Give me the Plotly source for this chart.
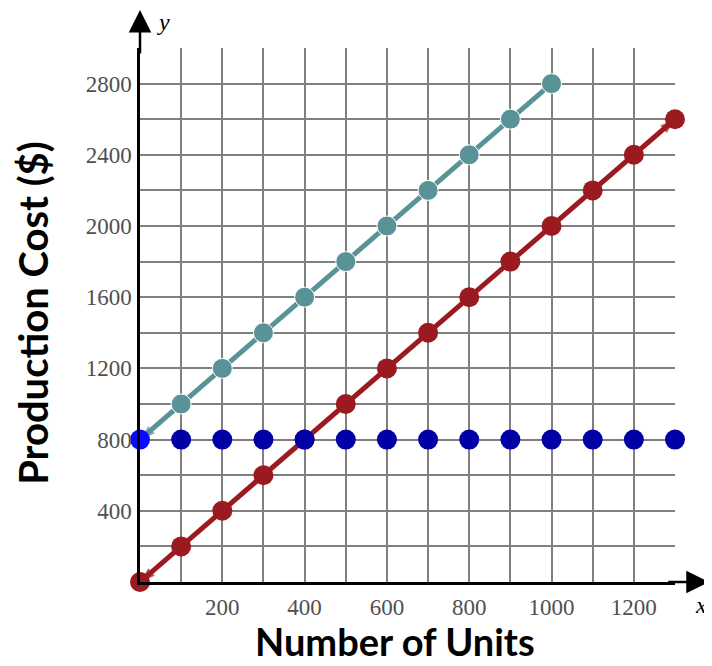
import plotly.graph_objects as go

# Data
x_units = [0, 100, 200, 300, 400, 500, 600, 700, 800, 900, 1000, 1100, 1200, 1300]
teal_x = [0, 100, 200, 300, 400, 500, 600, 700, 800, 900, 1000]
teal_y = [800, 1000, 1200, 1400, 1600, 1800, 2000, 2200, 2400, 2600, 2800]
red_y = [0, 200, 400, 600, 800, 1000, 1200, 1400, 1600, 1800, 2000, 2200, 2400, 2600]
blue_y = [800] * 14
x_tickvals = [0, 100, 200, 300, 400, 500, 600, 700, 800, 900, 1000, 1100, 1200, 1300]
x_ticktext = ["", "", "200", "", "400", "", "600", "", "800", "", "1000", "", "1200", ""]
y_tickvals = [0, 200, 400, 600, 800, 1000, 1200, 1400, 1600, 1800, 2000, 2200, 2400, 2600, 2800, 3000]
y_ticktext = ["", "", "400", "", "800", "", "1200", "", "1600", "", "2000", "", "2400", "", "2800", ""]
x_title = "Number of Units"
y_title = "Production Cost ($)"

TEAL = "#5a9397"
RED = "#9b1a1f"
BLUE = "#0000a6"
BLUE0 = "#0a0aff"

fig = go.Figure()

ARROW = 16
MK = 20

# teal arrowhead at start (0,800)
fig.add_trace(go.Scatter(
    x=[teal_x[1], teal_x[0]], y=[teal_y[1], teal_y[0]], mode="markers",
    marker=dict(symbol="arrow", size=[0, ARROW], color=TEAL, angleref="previous", line=dict(width=0)),
    cliponaxis=False, hoverinfo="skip", showlegend=False))
fig.add_trace(go.Scatter(
    x=teal_x, y=teal_y, mode="lines+markers",
    line=dict(color=TEAL, width=5),
    marker=dict(size=[0] + [MK] * (len(teal_x) - 1), color=TEAL, opacity=1),
    cliponaxis=False, showlegend=False))

# red arrowheads at both ends
fig.add_trace(go.Scatter(
    x=[x_units[1], x_units[0]], y=[red_y[1], red_y[0]], mode="markers",
    marker=dict(symbol="arrow", size=[0, ARROW], color=RED, angleref="previous", line=dict(width=0)),
    cliponaxis=False, hoverinfo="skip", showlegend=False))
fig.add_trace(go.Scatter(
    x=[x_units[-2], x_units[-1]], y=[red_y[-2], red_y[-1]], mode="markers",
    marker=dict(symbol="arrow", size=[0, ARROW], color=RED, angleref="previous", line=dict(width=0)),
    cliponaxis=False, hoverinfo="skip", showlegend=False))
fig.add_trace(go.Scatter(
    x=x_units, y=red_y, mode="lines+markers",
    line=dict(color=RED, width=5),
    marker=dict(size=MK, color=RED, opacity=1),
    cliponaxis=False, showlegend=False))

# blue dots
fig.add_trace(go.Scatter(
    x=x_units, y=blue_y, mode="markers",
    marker=dict(size=MK, color=[BLUE0] + [BLUE] * (len(x_units) - 1), opacity=1),
    cliponaxis=False, showlegend=False))

tick_font = dict(family="Liberation Serif, Times New Roman, serif", size=23, color="#505050")

fig.update_xaxes(
    range=[0, 1300], tickvals=x_tickvals, ticktext=x_ticktext,
    showgrid=True, gridcolor="#7f7f7f", gridwidth=1.5,
    showline=True, linecolor="black", linewidth=2.5,
    zeroline=False, ticks="", tickfont=tick_font, ticklabelstandoff=3,
)
fig.update_yaxes(
    range=[0, 3000], tickvals=y_tickvals, ticktext=y_ticktext,
    showgrid=True, gridcolor="#7f7f7f", gridwidth=1.5,
    showline=True, linecolor="black", linewidth=2.5,
    zeroline=False, ticks="", tickfont=tick_font, ticklabelstandoff=1,
)

# axis arrows
fig.add_annotation(x=1382, y=0, ax=1280, ay=0, xref="x", yref="y", axref="x", ayref="y",
                   showarrow=True, arrowhead=2, arrowsize=1.8, arrowwidth=2.5, arrowcolor="black", text="", standoff=0)
fig.add_annotation(x=0, y=3213, ax=0, ay=2960, xref="x", yref="y", axref="x", ayref="y",
                   showarrow=True, arrowhead=2, arrowsize=1.8, arrowwidth=2.5, arrowcolor="black", text="", standoff=0)
fig.add_annotation(x=1.049, y=-0.043, xref="paper", yref="paper", text="<i>x</i>", showarrow=False,
                   xanchor="center", yanchor="middle",
                   font=dict(family="Liberation Serif, serif", size=24, color="black"))
fig.add_annotation(x=0.043, y=1.049, xref="paper", yref="paper", text="<i>y</i>", showarrow=False,
                   xanchor="center", yanchor="middle",
                   font=dict(family="Liberation Serif, serif", size=24, color="black"))
# axis titles
fig.add_annotation(x=0.477, y=-0.1105, xref="paper", yref="paper", text="<b>" + x_title + "</b>",
                   showarrow=False, xanchor="center", yanchor="middle",
                   font=dict(family="Lato, Open Sans, sans-serif", size=38, color="black"))
fig.add_annotation(x=-0.2, y=0.504, xref="paper", yref="paper", text="<b>" + y_title + "</b>",
                   showarrow=False, xanchor="center", yanchor="middle", textangle=-90,
                   font=dict(family="Lato, Open Sans, sans-serif", size=40, color="black"))

fig.update_layout(
    width=712, height=666, autosize=False,
    margin=dict(l=132, r=45, t=40, b=92),
    plot_bgcolor="white", paper_bgcolor="white",
    showlegend=False,
)

fig.write_html("out.html")
